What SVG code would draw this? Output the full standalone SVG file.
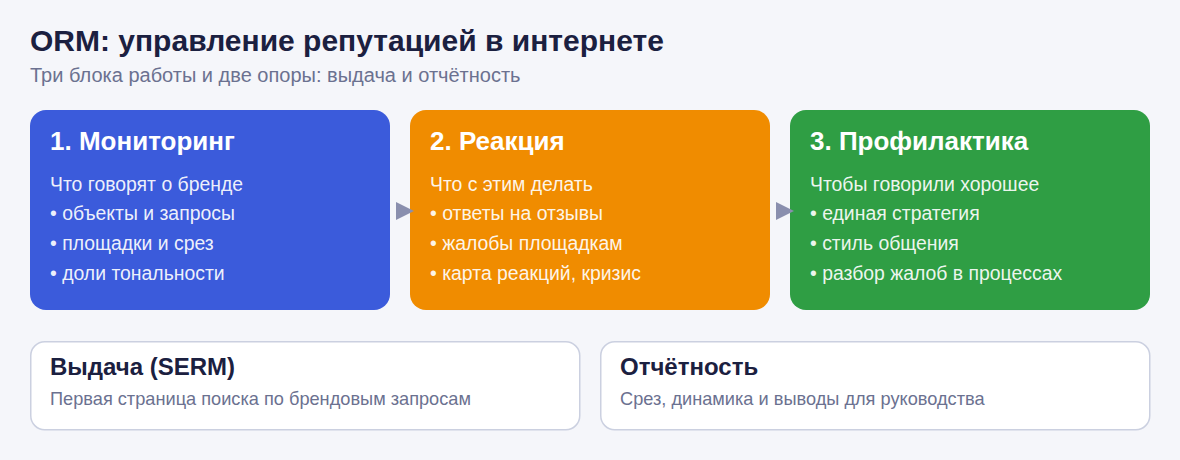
<svg xmlns="http://www.w3.org/2000/svg" width="1180" height="460" viewBox="0 0 1180 460">
<defs>
<style>
.t{font-family:"Liberation Sans",Arial,sans-serif}
.h1{font-size:30px;font-weight:bold;fill:#1b2040}
.sub{font-size:20px;fill:#6b7190}
.ct{font-size:26px;font-weight:bold;fill:#ffffff}
.cb{font-size:19.4px;fill:#ffffff;fill-opacity:0.93}
.bt{font-size:24px;font-weight:bold;fill:#1b2040}
.bd{font-size:18.2px;fill:#6b7190}
.pill{fill:#ffffff;stroke:#cbd0e0;stroke-width:1.5}
.arrow{fill:#8a8fae}
</style>
</defs>
<rect width="1180" height="460" fill="#f5f6fa"/>
<text class="t h1" x="30" y="51">ORM: управление репутацией в интернете</text>
<text class="t sub" x="30" y="82">Три блока работы и две опоры: выдача и отчётность</text>
<g id="node-monitoring">
<rect x="30" y="110" width="360" height="200" rx="16" fill="#3b5bdb"/>
<text class="t ct" x="50" y="150">1. Мониторинг</text>
<text class="t cb" x="50" y="191">Что говорят о бренде</text>
<text class="t cb" x="50" y="220">• объекты и запросы</text>
<text class="t cb" x="50" y="250">• площадки и срез</text>
<text class="t cb" x="50" y="280">• доли тональности</text>
</g>
<g id="node-reaction">
<rect x="410" y="110" width="360" height="200" rx="16" fill="#f08c00"/>
<text class="t ct" x="430" y="150">2. Реакция</text>
<text class="t cb" x="430" y="191">Что с этим делать</text>
<text class="t cb" x="430" y="220">• ответы на отзывы</text>
<text class="t cb" x="430" y="250">• жалобы площадкам</text>
<text class="t cb" x="430" y="280">• карта реакций, кризис</text>
</g>
<g id="node-prevention">
<rect x="790" y="110" width="360" height="200" rx="16" fill="#2f9e44"/>
<text class="t ct" x="810" y="150">3. Профилактика</text>
<text class="t cb" x="810" y="191">Чтобы говорили хорошее</text>
<text class="t cb" x="810" y="220">• единая стратегия</text>
<text class="t cb" x="810" y="250">• стиль общения</text>
<text class="t cb" x="810" y="280">• разбор жалоб в процессах</text>
</g>
<g id="connectors">
<path class="arrow" d="M396,202 L414,211 L396,220 Z"/>
<path class="arrow" d="M776,202 L794,211 L776,220 Z"/>
</g>
<g id="node-serm">
<rect class="pill" x="30.75" y="341.75" width="549" height="88" rx="14"/>
<text class="t bt" x="50" y="375">Выдача (SERM)</text>
<text class="t bd" x="50" y="405">Первая страница поиска по брендовым запросам</text>
</g>
<g id="node-reporting">
<rect class="pill" x="600.75" y="341.75" width="549" height="88" rx="14"/>
<text class="t bt" x="620" y="375">Отчётность</text>
<text class="t bd" x="620" y="405">Срез, динамика и выводы для руководства</text>
</g>
</svg>
